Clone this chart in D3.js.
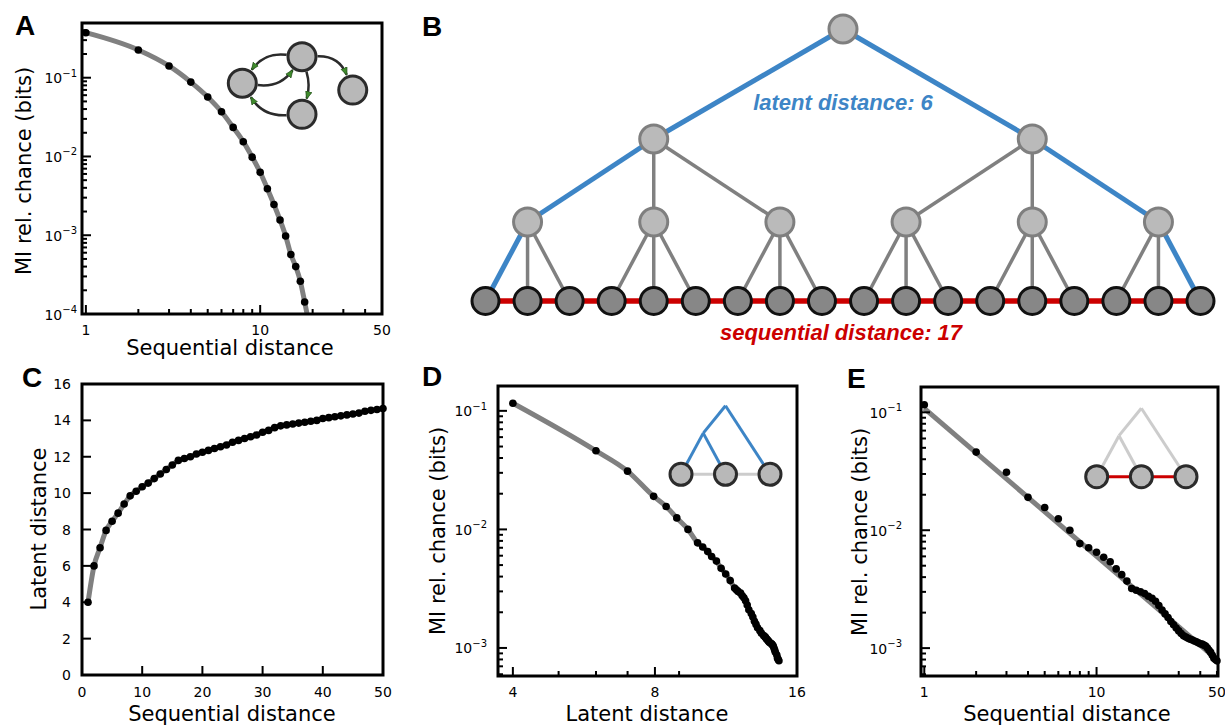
<!DOCTYPE html>
<html>
<head>
<meta charset="utf-8">
<script src="https://cdn.jsdelivr.net/npm/d3@7"></script>
<style>
  body { margin: 0; background: #fff; }
  svg text { font-family: "DejaVu Sans", sans-serif; fill: #000; }
  .tick { font-size: 14px; }
  .lab { font-size: 21px; }
  .letter { font-family: "Liberation Sans", Arial, sans-serif; font-weight: bold; font-size: 28px; }
  .tree-lab { font-family: "Liberation Sans", Arial, sans-serif; font-weight: bold; font-style: italic; font-size: 22px; }
</style>
</head>
<body>
<svg width="1225" height="725"></svg>
<script>
var svg = d3.select("svg");
var GREY = "#808080";
var BLUE = "#3d85c6";
var RED = "#cc0000";

// A: MI of the Markov chain vs sequential distance
var seqA = [1, 2, 3, 4, 5, 6, 7, 8, 9, 10, 11, 12, 13, 14, 15, 16, 17, 18];
var miA = [0.373, 0.225, 0.141, 0.088, 0.057, 0.037, 0.0234, 0.0154, 0.0098, 0.0063,
           0.0039, 0.00246, 0.00156, 0.00098, 0.00057, 0.00040, 0.00026, 0.000142];
// grey fit keeps going below the axis
var fitTailX = [19];
var fitTailY = [0.000078];

// C, D, E: hierarchical model, sequential distances 1..50
var seqDist = [1, 2, 3, 4, 5, 6, 7, 8, 9, 10, 11, 12, 13, 14, 15, 16, 17, 18, 19, 20,
               21, 22, 23, 24, 25, 26, 27, 28, 29, 30, 31, 32, 33, 34, 35, 36, 37, 38, 39, 40,
               41, 42, 43, 44, 45, 46, 47, 48, 49, 50];
var latentDist = [4.0, 6.0, 7.0, 7.95, 8.45, 8.9, 9.4, 9.85, 10.1, 10.35,
                  10.55, 10.8, 11.05, 11.3, 11.55, 11.8, 11.9, 12.0, 12.15, 12.25,
                  12.35, 12.45, 12.55, 12.65, 12.8, 12.9, 13.0, 13.1, 13.2, 13.35,
                  13.45, 13.6, 13.7, 13.75, 13.8, 13.85, 13.9, 13.95, 14.0, 14.1,
                  14.15, 14.2, 14.25, 14.3, 14.35, 14.4, 14.5, 14.55, 14.6, 14.65];
var miSeq = [0.116, 0.046, 0.031, 0.019, 0.0156, 0.0125, 0.0100, 0.0077, 0.0071, 0.0065,
             0.0059, 0.0054, 0.0047, 0.0042, 0.0037, 0.0032, 0.0031, 0.0030, 0.0029, 0.00275,
             0.00265, 0.0025, 0.0023, 0.0021, 0.00195, 0.00182, 0.00168, 0.00158, 0.00148, 0.0014,
             0.00133, 0.00127, 0.00124, 0.00121, 0.00119, 0.00117, 0.00115, 0.00113, 0.00111, 0.00109,
             0.00108, 0.00106, 0.00104, 0.0010, 0.00096, 0.00092, 0.00087, 0.00082, 0.0008, 0.00078];
// power-law fit in E (end points)
var fitEX = [1, 51];
var fitEY = [0.108, 0.00078];

// B: branching of the latent tree
var branching = [2, 3, 3];

// ---------- helpers ----------
var clipN = 0;
function makePanel(x, y) {
  var xr = x.range(), yr = y.range();
  var id = "clip" + (clipN++);
  svg.append("clipPath").attr("id", id).append("rect")
    .attr("x", xr[0]).attr("y", yr[1])
    .attr("width", xr[1] - xr[0]).attr("height", yr[0] - yr[1]);
  var g = svg.append("g");
  return {x: x, y: y, g: g,
    plot: g.append("g").attr("clip-path", "url(#" + id + ")"),
    L: xr[0], R: xr[1], T: yr[1], B: yr[0]};
}

function series(p, xs, ys, lx, ly) {
  var line = d3.line()
    .x(function(d) { return p.x(d[0]); })
    .y(function(d) { return p.y(d[1]); })
    .curve(d3.curveMonotoneX);
  p.plot.append("path")
    .datum(d3.zip(lx, ly))
    .attr("d", line)
    .attr("fill", "none")
    .attr("stroke", GREY)
    .attr("stroke-width", 5)
    .attr("stroke-linejoin", "round");
  p.g.selectAll(null)
    .data(d3.zip(xs, ys))
    .enter().append("circle")
    .attr("cx", function(d) { return p.x(d[0]); })
    .attr("cy", function(d) { return p.y(d[1]); })
    .attr("r", 3.8)
    .attr("fill", "#000");
}

function frame(p, xMaj, xMin, yMaj, yMin) {
  function xt(vals, len) {
    p.g.selectAll(null).data(vals).enter().append("line")
      .attr("x1", function(d) { return p.x(d); }).attr("x2", function(d) { return p.x(d); })
      .attr("y1", p.B).attr("y2", p.B - len)
      .attr("stroke", "#000").attr("stroke-width", 2);
  }
  function yt(vals, len) {
    p.g.selectAll(null).data(vals).enter().append("line")
      .attr("y1", function(d) { return p.y(d); }).attr("y2", function(d) { return p.y(d); })
      .attr("x1", p.L).attr("x2", p.L + len)
      .attr("stroke", "#000").attr("stroke-width", 2);
  }
  xt(xMaj, 9); xt(xMin, 5); yt(yMaj, 9); yt(yMin, 5);
  p.g.append("rect")
    .attr("x", p.L).attr("y", p.T)
    .attr("width", p.R - p.L).attr("height", p.B - p.T)
    .attr("fill", "none").attr("stroke", "#000").attr("stroke-width", 3);
}

function xLabels(p, vals, yBase) {
  p.g.selectAll(null).data(vals).enter().append("text")
    .attr("class", "tick")
    .attr("x", function(d) { return p.x(d); })
    .attr("y", yBase)
    .attr("text-anchor", "middle")
    .text(function(d) { return d; });
}

function yLabels(p, vals, xEnd) {
  p.g.selectAll(null).data(vals).enter().append("text")
    .attr("class", "tick")
    .attr("x", xEnd)
    .attr("y", function(d) { return p.y(d) + 5; })
    .attr("text-anchor", "end")
    .text(function(d) { return d; });
}

function yPowLabels(p, vals, xEnd) {
  var t = p.g.selectAll(null).data(vals).enter().append("text")
    .attr("class", "tick")
    .attr("x", xEnd)
    .attr("y", function(d) { return p.y(d) + 5.5; })
    .attr("text-anchor", "end");
  t.append("tspan").text("10");
  t.append("tspan")
    .attr("dy", -6.5)
    .attr("font-size", 10)
    .text(function(d) { return "\u2212" + (-Math.round(Math.log10(d))); });
}

function xTitle(x, y, s) {
  svg.append("text").attr("class", "lab").attr("x", x).attr("y", y)
    .attr("text-anchor", "middle").text(s);
}
function yTitle(x, y, s) {
  svg.append("text").attr("class", "lab")
    .attr("transform", "translate(" + x + "," + y + ") rotate(-90)")
    .attr("text-anchor", "middle").text(s);
}
function letter(x, y, s) {
  svg.append("text").attr("class", "letter").attr("x", x).attr("y", y).text(s);
}

function majorLog(vals) {
  return vals.filter(function(v) { return Math.abs(Math.log10(v) - Math.round(Math.log10(v))) < 1e-9; });
}
function minorLog(vals) {
  return vals.filter(function(v) { return Math.abs(Math.log10(v) - Math.round(Math.log10(v))) > 1e-9; });
}

// ---------- A ----------
var xA = d3.scaleLog().domain([0.95, 50]).range([82, 382]);
var yA = d3.scaleLog().domain([1e-4, 0.495]).range([314, 23]);
var pA = makePanel(xA, yA);
series(pA, seqA, miA, seqA.concat(fitTailX), miA.concat(fitTailY));
frame(pA, majorLog(xA.ticks()), minorLog(xA.ticks()), majorLog(yA.ticks()), minorLog(yA.ticks()));
xLabels(pA, [1, 10, 50], 335);
yPowLabels(pA, [1e-1, 1e-2, 1e-3, 1e-4], 77);
xTitle(230, 355, "Sequential distance");
yTitle(31, 171, "MI rel. chance (bits)");
letter(15, 35, "A");

// inset: Markov chain graph
var defs = svg.append("defs");
defs.append("marker")
  .attr("id", "arr").attr("viewBox", "0 0 10 10")
  .attr("refX", 9).attr("refY", 5)
  .attr("markerWidth", 8).attr("markerHeight", 8)
  .attr("markerUnits", "userSpaceOnUse").attr("orient", "auto")
  .append("path").attr("d", "M0,1L10,5L0,9z")
  .attr("fill", "#3f8a2c").attr("stroke", "#1f4a16").attr("stroke-width", 0.8);

var mcX = d3.scaleLinear().domain([0, 1]).range([242.3, 302]);
var mcY = d3.scaleLinear().domain([0, 1]).range([56.7, 114.3]);
var mcNodes = {top: [1, 0], left: [0, 0.46], bottom: [1, 1], right: [1.85, 0.58]};
var mcEdges = [["top", "left", 0.3], ["left", "top", 0.3], ["top", "bottom", -0.15],
               ["top", "right", -0.35], ["bottom", "left", -0.3]];
var mcR = 14;
function pt(n) { return [mcX(mcNodes[n][0]), mcY(mcNodes[n][1])]; }
function toward(c, t, r) {
  var dx = t[0] - c[0], dy = t[1] - c[1], l = Math.hypot(dx, dy);
  return [c[0] + dx / l * r, c[1] + dy / l * r];
}
var gMc = svg.append("g");
gMc.selectAll(null).data(mcEdges).enter().append("path")
  .attr("d", function(e) {
    var a = pt(e[0]), b = pt(e[1]);
    var dx = b[0] - a[0], dy = b[1] - a[1];
    var c = [(a[0] + b[0]) / 2 - e[2] * dy, (a[1] + b[1]) / 2 + e[2] * dx];
    var s = toward(a, c, mcR + 1.5), t = toward(b, c, mcR + 2.5);
    return "M" + s + "Q" + c + " " + t;
  })
  .attr("fill", "none").attr("stroke", "#2b2b2b").attr("stroke-width", 2.5)
  .attr("marker-end", "url(#arr)");
gMc.selectAll(null).data(Object.keys(mcNodes)).enter().append("circle")
  .attr("cx", function(n) { return pt(n)[0]; })
  .attr("cy", function(n) { return pt(n)[1]; })
  .attr("r", mcR)
  .attr("fill", "#b8b8b8").attr("stroke", "#2b2b2b").attr("stroke-width", 3);

// ---------- B: tree ----------
function build(depth) {
  if (depth === branching.length) return {};
  return {children: d3.range(branching[depth]).map(function() { return build(depth + 1); })};
}
var root = d3.hierarchy(build(0));
d3.cluster().nodeSize([1, 1]).separation(function() { return 1; })(root);
var leaves = root.leaves();
var tx = d3.scaleLinear().domain(d3.extent(leaves, function(d) { return d.x; })).range([485.5, 1200.5]);
var ty = d3.scaleOrdinal().domain([0, 1, 2, 3]).range([29, 139, 222, 301]);
var pathNodes = leaves[0].path(leaves[leaves.length - 1]);
var links = root.links().map(function(l) {
  l.blue = pathNodes.indexOf(l.source) >= 0 && pathNodes.indexOf(l.target) >= 0;
  return l;
}).sort(function(a, b) { return a.blue - b.blue; });

var gB = svg.append("g");
gB.selectAll(null).data(links).enter().append("line")
  .attr("x1", function(l) { return tx(l.source.x); })
  .attr("y1", function(l) { return ty(l.source.depth); })
  .attr("x2", function(l) { return tx(l.target.x); })
  .attr("y2", function(l) { return ty(l.target.depth); })
  .attr("stroke", function(l) { return l.blue ? BLUE : GREY; })
  .attr("stroke-width", function(l) { return l.blue ? 5 : 3.5; });
gB.append("line")
  .attr("x1", tx(leaves[0].x)).attr("x2", tx(leaves[leaves.length - 1].x))
  .attr("y1", ty(3)).attr("y2", ty(3))
  .attr("stroke", RED).attr("stroke-width", 5.5);
gB.selectAll(null).data(root.descendants()).enter().append("circle")
  .attr("cx", function(d) { return tx(d.x); })
  .attr("cy", function(d) { return ty(d.depth); })
  .attr("r", function(d) { return d.children ? 14 : 13.5; })
  .attr("fill", function(d) { return d.children ? "#bababa" : "#878787"; })
  .attr("stroke", function(d) { return d.children ? "#7f7f7f" : "#111"; })
  .attr("stroke-width", 3);
gB.append("text").attr("class", "tree-lab")
  .attr("x", tx(root.x)).attr("y", 110).attr("text-anchor", "middle")
  .style("fill", BLUE).text("latent distance: " + (pathNodes.length - 1));
gB.append("text").attr("class", "tree-lab")
  .attr("x", tx(root.x) - 2).attr("y", 340).attr("text-anchor", "middle")
  .style("fill", RED).text("sequential distance: " + (leaves.length - 1));
letter(422, 36, "B");

// ---------- C ----------
var xC = d3.scaleLinear().domain([0, 50]).range([82, 383]);
var yC = d3.scaleLinear().domain([0, 16]).range([675, 384]);
var pC = makePanel(xC, yC);
series(pC, seqDist, latentDist, seqDist, latentDist);
frame(pC, xC.ticks(5), [], yC.ticks(8), []);
xLabels(pC, xC.ticks(5), 697);
yLabels(pC, yC.ticks(8), 71);
xTitle(232, 721, "Sequential distance");
yTitle(46, 529, "Latent distance");
letter(22, 387, "C");

// ---------- D ----------
var xD = d3.scaleLog().base(2).domain([3.72, 16]).range([498, 797]);
var yD = d3.scaleLog().domain([5.8e-4, 0.162]).range([676, 386]);
var pD = makePanel(xD, yD);
series(pD, latentDist, miSeq, latentDist, miSeq);
frame(pD, [4, 8], [5, 6, 7, 9], majorLog(yD.ticks()), minorLog(yD.ticks()));
xLabels(pD, [4, 8, 16], 697);
yPowLabels(pD, [1e-1, 1e-2, 1e-3], 487);
xTitle(647, 721, "Latent distance");
yTitle(445, 531, "MI rel. chance (bits)");
letter(422, 386, "D");

// ---------- E ----------
var xE = d3.scaleLog().domain([0.957, 50.7]).range([921, 1218]);
var yE = d3.scaleLog().domain([5.8e-4, 0.164]).range([676, 387]);
var pE = makePanel(xE, yE);
pE.plot.append("path")
  .datum(d3.zip(fitEX, fitEY))
  .attr("d", d3.line().x(function(d) { return xE(d[0]); }).y(function(d) { return yE(d[1]); }))
  .attr("fill", "none").attr("stroke", GREY).attr("stroke-width", 5);
series(pE, seqDist, miSeq, [], []);
frame(pE, majorLog(xE.ticks()), minorLog(xE.ticks()), majorLog(yE.ticks()), minorLog(yE.ticks()));
xLabels(pE, [1, 10, 50], 697);
yPowLabels(pE, [1e-1, 1e-2, 1e-3], 902);
xTitle(1067, 721, "Sequential distance");
yTitle(867, 532, "MI rel. chance (bits)");
letter(847, 388, "E");

// ---------- small tree insets in D and E ----------
var insetNodes = [[0, 0], [1, 0], [2, 0], [0.5, 0.6], [1, 1]];
var insetTree = [[4, 3], [3, 0], [3, 1], [4, 2]];
function inset(x0, x1, yBot, yTop, treeColor, rowColor) {
  var ix = d3.scaleLinear().domain([0, 2]).range([x0, x1]);
  var iy = d3.scaleLinear().domain([0, 1]).range([yBot, yTop]);
  var g = svg.append("g");
  g.selectAll(null).data(insetTree).enter().append("line")
    .attr("x1", function(e) { return ix(insetNodes[e[0]][0]); })
    .attr("y1", function(e) { return iy(insetNodes[e[0]][1]); })
    .attr("x2", function(e) { return ix(insetNodes[e[1]][0]); })
    .attr("y2", function(e) { return iy(insetNodes[e[1]][1]); })
    .attr("stroke", treeColor).attr("stroke-width", 3);
  g.append("line")
    .attr("x1", ix(0)).attr("x2", ix(2)).attr("y1", iy(0)).attr("y2", iy(0))
    .attr("stroke", rowColor).attr("stroke-width", 3);
  g.selectAll(null).data(insetNodes.slice(0, 3)).enter().append("circle")
    .attr("cx", function(d) { return ix(d[0]); })
    .attr("cy", function(d) { return iy(d[1]); })
    .attr("r", 11)
    .attr("fill", "#b8b8b8").attr("stroke", "#2b2b2b").attr("stroke-width", 3);
}
inset(681, 770, 474.3, 405.7, BLUE, "#cccccc");
inset(1096.7, 1186, 476.7, 408.3, "#cccccc", RED);
</script>
</body>
</html>
